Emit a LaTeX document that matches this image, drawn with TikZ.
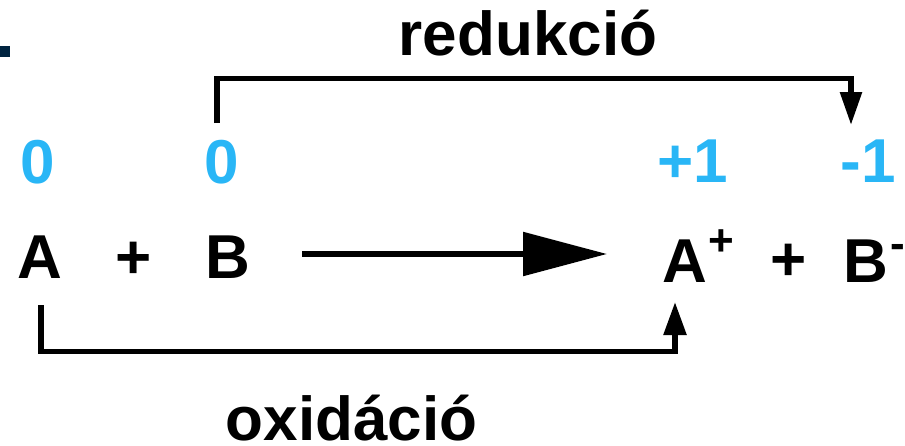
\documentclass[tikz,border=0pt]{standalone}
\usepackage{fontspec}
\setmainfont{Liberation Sans}
\usetikzlibrary{arrows.meta}
\definecolor{oxblue}{RGB}{41,182,246}
\definecolor{navy}{RGB}{0,36,64}
\begin{document}
\begin{tikzpicture}[x=1pt,y=-1pt,
  big/.style={font=\fontsize{62}{62}\selectfont\bfseries, inner sep=0, anchor=base},
  ox/.style={big, text=oxblue},
  supr/.style={font=\fontsize{44}{44}\selectfont\bfseries, inner sep=0, anchor=base},
  word/.style={font=\fontsize{62}{62}\selectfont\bfseries, inner sep=0, anchor=base west},
  link/.style={line width=5.5pt, line join=miter},
  tiphead/.style={-{Triangle[length=33pt,width=21pt]}}
]
\useasboundingbox (0,0) rectangle (905,445);
\fill[navy] (0,46) rectangle (10,57);
\node[word] (red) at (398.5,55.5) {redukció};
\node[word] (oxi) at (225.5,440) {oxidáció};
\node[ox] (za) at (38,183) {0};
\node[ox] (zb) at (222,183) {0};
\node[ox] (pa) at (693,182) {+1};
\node[ox] (mb) at (868,182) {-1};
\node[big] (a) at (40,278) {A};
\node[big] (p1) at (134,278) {+};
\node[big] (b) at (228,278) {B};
\node[big] (a2) at (685,282) {A};
\node[supr] (a2s) at (721,255) {+};
\node[big] (p2) at (789,280) {+};
\node[big] (b2) at (866,282) {B};
\node[supr, anchor=base west] (b2s) at (890,258) {-};
% main reaction arrow
\coordinate (ms) at (302,254);
\coordinate (me) at (607,254);
\draw[line width=5.5pt, -{Triangle[length=84pt,width=43pt]}] (ms) -- (me);
% reduction bracket
\coordinate (t1) at (217,123);
\coordinate (tc) at (851,78.5);
\coordinate (t2) at (851,125);
\draw[link, tiphead] (t1) |- (tc) -- (t2);
% oxidation bracket
\coordinate (o1) at (41,305);
\coordinate (oc) at (675,351.5);
\coordinate (o2) at (675,302);
\draw[link, -{Triangle[length=33pt,width=22pt]}] (o1) |- (oc) -- (o2);
\end{tikzpicture}
\end{document}
